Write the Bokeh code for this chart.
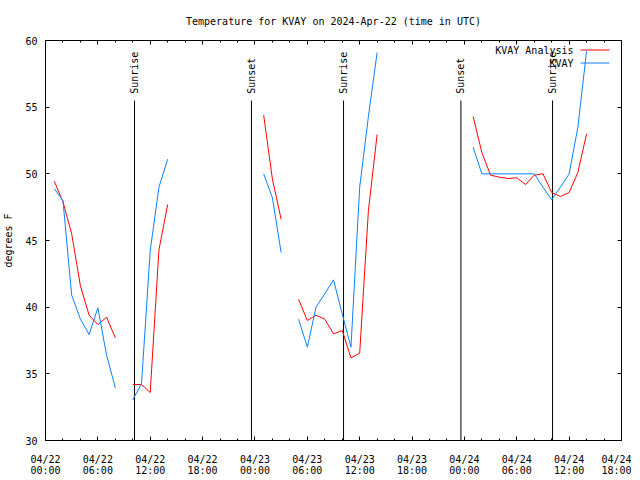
import math
from bokeh.plotting import figure
from bokeh.models import FixedTicker, LinearAxis, Range1d, CustomJSTickFormatter
from bokeh.core.properties import value
from bokeh.embed import file_html
from bokeh.resources import INLINE

NaN = float("nan")

title_text = "Temperature for KVAY on 2024-Apr-22 (time in UTC)"
y_label = "degrees F"
series_names = ["KVAY Analysis", "KVAY"]
series_colors = ["#ff0000", "#0a80ff"]

# hours since 2024-04-22 00:00 UTC
analysis_hours = [1, 2, 3, 4, 5, 6, 7, 8, NaN,
                  10, 11, 12, 13, 14, NaN,
                  25, 26, 27, NaN,
                  29, 30, 31, 32, 33, 34, 35, 36, 37, 38, NaN,
                  49, 50, 51, 52, 53, 54, 55, 56, 57, 58, 59, 60, 61, 62]
analysis_temps = [49.45, 47.9, 45.5, 41.6, 39.4, 38.7, 39.25, 37.7, NaN,
                  34.2, 34.2, 33.6, 44.3, 47.7, NaN,
                  54.4, 49.6, 46.6, NaN,
                  40.6, 39.0, 39.4, 39.1, 38.0, 38.25, 36.2, 36.55, 47.25, 52.95, NaN,
                  54.3, 51.6, 49.9, 49.75, 49.65, 49.7, 49.2, 49.9, 50.0, 48.6, 48.3, 48.6, 50.1, 53.0]

obs_hours = [1, 2, 3, 4, 5, 6, 7, 8, NaN,
             10, 11, 12, 13, 14, NaN,
             25, 26, 27, NaN,
             29, 30, 31, 32, 33, 34, 35, 36, 37, 38, NaN,
             49, 50, 51, 52, 53, 54, 55, 56, 57, 58, 59, 60, 61, 62]
obs_temps = [48.9, 48.0, 40.9, 39.1, 37.95, 39.95, 36.4, 33.95, NaN,
             33.05, 34.25, 44.25, 49.0, 51.1, NaN,
             50.0, 48.2, 44.1, NaN,
             39.1, 37.0, 40.0, 41.0, 42.05, 39.5, 37.0, 49.0, 54.3, 59.1, NaN,
             52.0, 50.0, 50.0, 50.0, 50.0, 50.0, 50.0, 50.0, 49.0, 48.05, 49.0, 50.0, 53.5, 59.2]

sun_hours = [10.2, 23.6, 34.15, 47.6, 58.1]
sun_names = ["Sunrise", "Sunset", "Sunrise", "Sunset", "Sunrise"]

x_tick_hours = [0, 6, 12, 18, 24, 30, 36, 42, 48, 54, 60, 66]
x_tick_dates = ["04/22"] * 4 + ["04/23"] * 4 + ["04/24"] * 4
x_tick_times = ["00:00", "06:00", "12:00", "18:00"] * 3
x_minor_hours = list(range(0, 67, 2))
y_ticks = [30, 35, 40, 45, 50, 55, 60]

FONT = "DejaVu Sans Mono"
FS = "10px"

x0, x1 = 0, 66
y0, y1 = 30, 60

p = figure(frame_width=576, frame_height=400, output_backend="svg", toolbar_location=None,
           x_range=Range1d(x0, x1), y_range=Range1d(y0, y1), title=None,
           min_border_left=38, min_border_right=10, min_border_top=0, min_border_bottom=0)
p.margin = (12, 0, -20, 0)
p.background_fill_color = "white"
p.border_fill_color = "white"
p.outline_line_color = "black"
p.outline_line_width = 1
p.xgrid.visible = False
p.ygrid.visible = False

xt = FixedTicker(ticks=x_tick_hours, minor_ticks=x_minor_hours)
yt = FixedTicker(ticks=y_ticks, minor_ticks=[])

def style_axis(ax):
    ax.axis_line_color = "black"
    ax.major_tick_line_color = "black"
    ax.minor_tick_line_color = "black"
    ax.major_tick_in = 4
    ax.major_tick_out = 0
    ax.minor_tick_in = 2
    ax.minor_tick_out = 0
    ax.major_label_text_font = FONT
    ax.major_label_text_font_size = FS
    ax.major_label_text_color = "black"

xa = p.xaxis[0]
xa.ticker = xt
style_axis(xa)
xa.major_label_overrides = {h: f"{d}\n{t}" for h, d, t in zip(x_tick_hours, x_tick_dates, x_tick_times)}
xa.major_label_standoff = 13
xa.major_label_text_line_height = 1.0

ya = p.yaxis[0]
ya.ticker = yt
style_axis(ya)
ya.major_label_standoff = 8
ya.axis_label = y_label
ya.axis_label_text_font = FONT
ya.axis_label_text_font_size = FS
ya.axis_label_text_font_style = "normal"
ya.axis_label_text_color = "black"
ya.axis_label_standoff = 8

empty = CustomJSTickFormatter(code="return ''")
# mirrored top axis, carrying the chart title as its axis label
top = LinearAxis(ticker=xt, formatter=empty, major_label_standoff=0)
style_axis(top)
top.major_label_text_font_size = "0px"
top.axis_label = title_text
top.axis_label_text_font = FONT
top.axis_label_text_font_size = FS
top.axis_label_text_font_style = "normal"
top.axis_label_text_color = "black"
top.axis_label_standoff = 14
p.add_layout(top, "above")
right = LinearAxis(ticker=yt, formatter=empty, major_label_standoff=0)
style_axis(right)
right.major_label_text_font_size = "0px"
p.add_layout(right, "right")

hpx = (x1 - x0) / 576.0
vpx = (y1 - y0) / 400.0

# sunrise / sunset markers
line_top = 55.5
text_base = 56.0
p.segment(x0=sun_hours, y0=[y0] * len(sun_hours), x1=sun_hours, y1=[line_top] * len(sun_hours),
          line_color="black", line_width=1)
p.text(x=sun_hours, y=[text_base] * len(sun_hours), text=sun_names, angle=math.pi / 2,
       text_align="left", text_baseline="middle", text_font=value(FONT),
       text_font_size=FS, text_color="black")

# legend (gnuplot style: text then sample line)
leg_text_x = x1 - 48 * hpx
leg_line_x0 = x1 - 41 * hpx
leg_line_x1 = x1 - 12 * hpx
for i, (name, col) in enumerate(zip(series_names, series_colors)):
    ly = y1 - (9.5 + 13 * i) * vpx
    p.text(x=[leg_text_x], y=[ly], text=[name], text_align="right", text_baseline="middle",
           text_font=value(FONT), text_font_size=FS, text_color="black")
    p.segment(x0=[leg_line_x0], y0=[ly], x1=[leg_line_x1], y1=[ly], line_color=col, line_width=1)

p.line(analysis_hours, analysis_temps, line_color=series_colors[0], line_width=1)
p.line(obs_hours, obs_temps, line_color=series_colors[1], line_width=1)

open("out.html", "w").write(file_html(p, INLINE))
